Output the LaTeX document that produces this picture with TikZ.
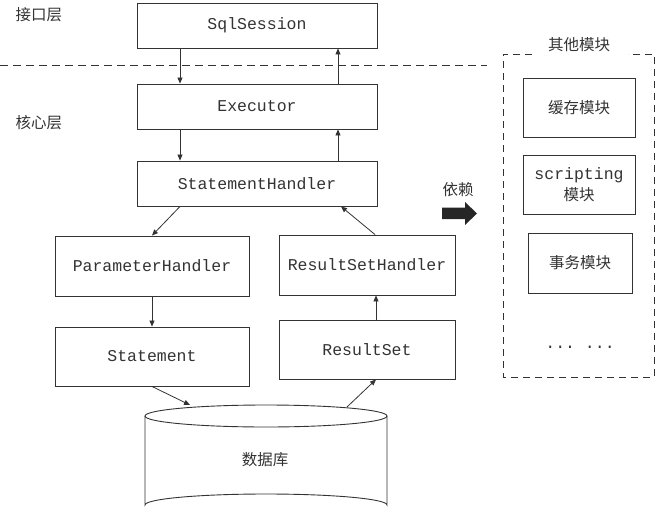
\documentclass[tikz,border=0pt]{standalone}
\usepackage{fontspec}
\setmonofont{Liberation Mono}
\newfontfamily\cjk{Noto Sans CJK SC}
\usetikzlibrary{arrows.meta}
\definecolor{ink}{HTML}{333333}
\tikzset{
  box/.style={draw=ink, line width=0.9pt, inner sep=0pt, text=ink,
    font=\fontsize{16.5}{20}\selectfont\ttfamily},
  cbox/.style={draw=ink, line width=0.9pt, inner sep=0pt, text=ink,
    font=\fontsize{15.5}{22}\selectfont\cjk, align=center},
  lbl/.style={text=ink, inner sep=0pt, font=\fontsize{15.5}{20}\selectfont\cjk},
  arr/.style={draw=ink, line width=0.8pt, -{Triangle[length=6pt,width=5pt]}},
}
\begin{document}
\begin{tikzpicture}[x=1pt,y=-1pt]
\useasboundingbox (0,0) rectangle (658,519);
% layer labels and separator
\node[lbl] (l1) at (39,15) {接口层};
\node[lbl] (l2) at (39,123) {核心层};
\draw[ink, line width=0.8pt, dash pattern=on 8pt off 5pt] (0,65) -- (487,65);
% main boxes
\node[box, minimum width=240pt, minimum height=45pt] (sql) at (257,25.5) {SqlSession};
\node[box, minimum width=240pt, minimum height=45pt] (exec) at (257,106.5) {Executor};
\node[box, minimum width=240pt, minimum height=45pt] (sh) at (257,183.5) {StatementHandler};
\node[box, minimum width=194pt, minimum height=60pt] (ph) at (152,266) {ParameterHandler};
\node[box, minimum width=176pt, minimum height=60pt] (rsh) at (367,265) {ResultSetHandler};
\node[box, minimum width=194pt, minimum height=59pt] (st) at (152,356.5) {Statement};
\node[box, minimum width=176pt, minimum height=59pt] (rs) at (367,349.5) {ResultSet};
% database cylinder
\draw[ink, line width=0.9pt, fill=white] (266,416) ellipse [x radius=121, y radius=11];
\draw[ink, line width=0.9pt] (145,416) -- (145,505) arc [start angle=180, end angle=360, x radius=121, y radius=11] -- (387,416);
\node[lbl] (db) at (265,460) {数据库};
\coordinate (dbin) at (190,405);
\coordinate (dbout) at (347,407);
% connectors
\draw[arr] ([xshift=-77pt]sql.south) -- ([xshift=-77pt]exec.north);
\draw[arr] ([xshift=81pt]exec.north) -- ([xshift=81pt]sql.south);
\draw[arr] ([xshift=-77pt]exec.south) -- ([xshift=-77pt]sh.north);
\draw[arr] ([xshift=81pt]sh.north) -- ([xshift=81pt]exec.south);
\draw[arr] ([xshift=-77pt]sh.south) -- (ph.north);
\draw[arr] ([xshift=8pt]rsh.north) -- ([xshift=84pt]sh.south);
\draw[arr] (ph.south) -- (st.north);
\draw[arr] ([xshift=9pt]rs.north) -- ([xshift=9pt]rsh.south);
\draw[arr] (st.south) -- (dbin);
\draw[arr] (dbout) -- ([xshift=9pt]rs.south);
% dependency arrow
\node[lbl] (dep) at (458,190) {依赖};
\fill[black!85] (442,207.5) -- (465,207.5) -- (465,202) -- (477,213.5) -- (465,225) -- (465,219) -- (442,219) -- cycle;
% other modules group
\node[lbl] (gt) at (579,45) {其他模块};
\draw[ink, line width=0.8pt, dash pattern=on 7pt off 5pt] (532,54) -- (503,54) -- (503,377) -- (654,377) -- (654,54) -- (628,54);
\node[cbox, minimum width=112pt, minimum height=59pt] (cache) at (579,107.5) {缓存模块};
\node[cbox, minimum width=112pt, minimum height=59pt] (scr) at (579,184.5) {{\fontsize{16.5}{20}\selectfont\ttfamily scripting}\\[-1pt]模块};
\node[cbox, minimum width=104pt, minimum height=60pt] (tx) at (580,263) {事务模块};
\node[lbl, font=\fontsize{16.5}{20}\selectfont\ttfamily] (dots) at (580,347) {... ...};
\end{tikzpicture}
\end{document}
